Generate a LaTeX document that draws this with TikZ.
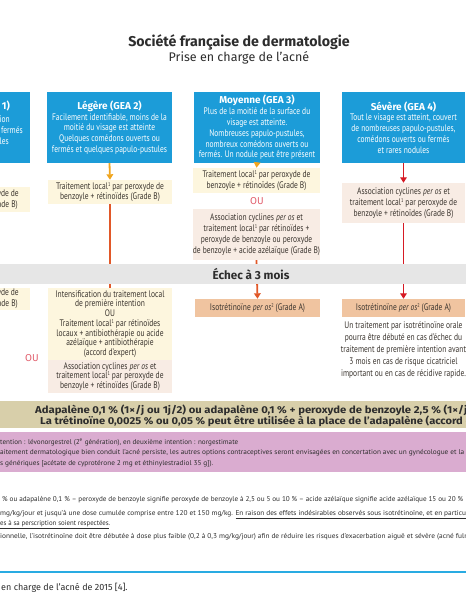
\documentclass[tikz,border=0pt]{standalone}
\usepackage{fontspec}
\usepackage{graphicx}
\setmainfont{PT Sans}
\newfontfamily\cond[FakeStretch=0.79]{PT Sans}
\newfontfamily\hd{Fira Sans}
\usetikzlibrary{arrows.meta}
\definecolor{cblue}{RGB}{28,156,216}
\definecolor{crule}{RGB}{41,171,226}
\definecolor{cyel}{RGB}{253,246,222}
\definecolor{cpink}{RGB}{248,236,228}
\definecolor{corange}{RGB}{240,196,160}
\definecolor{cgray}{RGB}{230,230,230}
\definecolor{ctan}{RGB}{216,207,170}
\definecolor{cviol}{RGB}{218,172,208}
\definecolor{ctext}{RGB}{58,52,46}
\definecolor{ctitle}{RGB}{45,45,45}
\definecolor{cou}{RGB}{226,96,110}
\definecolor{ayel}{RGB}{240,165,30}
\definecolor{aorg}{RGB}{225,88,40}
\definecolor{ared}{RGB}{214,26,36}
\newcommand\fitto[2]{\resizebox{#1}{\height}{#2}}
\newcommand\supr[1]{\raisebox{3pt}{\fontsize{5.5}{6}\selectfont #1}}
\tikzset{
  box/.style={inner sep=0pt, align=center, font=\cond\fontsize{9.5}{10.8}\selectfont, text=ctext},
  bluebox/.style={box, fill=cblue, text=white},
  ybox/.style={box, fill=cyel},
  pbox/.style={box, fill=cpink},
  obox/.style={box, fill=corange},
  frag/.style={inner sep=0pt, font=\cond\fontsize{9.5}{10.8}\selectfont, text=ctext},
  foot/.style={inner sep=0pt, anchor=west, font=\cond\fontsize{7}{8}\selectfont, text=ctitle},
  arr/.style={line width=1.8pt, -{Triangle[width=6.5pt,length=5.5pt]}},
  ln/.style={line width=1.8pt},
}
\newcommand\ttl[1]{{\hd\bfseries\fontsize{10}{10.8}\selectfont #1}}
\begin{document}
\begin{tikzpicture}[x=1pt,y=-1pt]
\useasboundingbox (0,0) rectangle (466,600);
\clip (0,0) rectangle (466,600);
\fill[white] (0,0) rectangle (466,600);

% titles
\node[inner sep=0pt, font=\hd\bfseries\fontsize{14.2}{16}\selectfont, text=ctitle] (t1) at (239,42) {Société française de dermatologie};
\node[inner sep=0pt, font=\hd\fontsize{12.5}{14}\selectfont, text=ctitle] (t2) at (239,57.5) {Prise en charge de l’acné};

% top row blue boxes
\node[bluebox, minimum width=40, minimum height=71] (b1) at (10,127.5) {};
\node[frag, anchor=east, text=white, font=\hd\bfseries\fontsize{10}{10.8}\selectfont] (b1a) at (10,106) {1)};
\node[frag, anchor=east, text=white] (b1b) at (10,119) {ion};
\node[frag, anchor=east, text=white] (b1c) at (23,130) {fermés};
\node[frag, anchor=east, text=white] (b1d) at (9,141) {les};

\node[bluebox, minimum width=125, minimum height=71] (b2) at (109.5,127.5)
 {\ttl{Légère (GEA 2)}\\Facilement identifiable, moins de la\\moitié du visage est atteinte\\Quelques comédons ouverts ou\\fermés et quelques papulo-pustules};
\node[bluebox, minimum width=126, minimum height=71] (b3) at (257,127.5)
 {\ttl{Moyenne (GEA 3)}\\Plus de la moitié de la surface du\\visage est atteinte.\\Nombreuses papulo-pustules,\\nombreux comédons ouverts ou\\fermés. Un nodule peut être présent};
\node[bluebox, minimum width=123, minimum height=71] (b4) at (403.5,127.5)
 {\ttl{Sévère (GEA 4)}\\Tout le visage est atteint, couvert\\de nombreuses papulo-pustules,\\comédons ouverts ou fermés\\et rares nodules};

% left cut column
\node[ybox, minimum width=40, minimum height=25] (yl1) at (10,199.5) {};
\node[frag, anchor=east] (yl1a) at (19,194) {yde de};
\node[frag, anchor=east] (yl1b) at (18,205) {ade B)};
\node[ybox, minimum width=40, minimum height=22] (yl2) at (10,299) {};
\node[frag, anchor=east] (yl2a) at (19,293) {yde de};
\node[frag, anchor=east] (yl2b) at (18,304) {ade B)};
\node[inner sep=0pt, font=\hd\fontsize{10}{12}\selectfont, text=cou] (ou1) at (32,358) {OU};

% Légère column
\node[ybox, minimum width=124, minimum height=24] (y1) at (110,192)
 {Traitement local\supr{1} par peroxyde de\\benzoyle + rétinoïdes (Grade B)};
\node[ybox, minimum width=124, minimum height=72, font=\cond\fontsize{9.5}{9.7}\selectfont] (y2) at (110,324)
 {Intensification du traitement local\\de première intention\\OU\\Traitement local\supr{1} par rétinoïdes\\locaux + antibiothérapie ou acide\\azélaïque + antibiothérapie\\(accord d’expert)};
\node[pbox, minimum width=124, minimum height=33, font=\cond\fontsize{9.5}{9.7}\selectfont] (p3) at (110,376.5)
 {Association cyclines \textit{per os} et\\traitement local\supr{1} par peroxyde de\\benzoyle + rétinoïdes (Grade B)};

% Moyenne column
\node[ybox, minimum width=127, minimum height=25] (ym1) at (256.5,180.5)
 {Traitement local\supr{1} par peroxyde de\\benzoyle + rétinoïdes (Grade B)};
\node[inner sep=0pt, font=\hd\fontsize{10}{12}\selectfont, text=cou] (ou2) at (257,201) {OU};
\node[pbox, minimum width=127, minimum height=51] (pm2) at (256.5,234.5)
 {Association cyclines \textit{per os} et\\traitement local\supr{1} par rétinoïdes +\\peroxyde de benzoyle ou peroxyde\\de benzoyle + acide azélaïque (Grade B)};
\node[obox, minimum width=125, minimum height=18] (om) at (257.5,308)
 {Isotrétinoïne \textit{per os}\supr{2} (Grade A)};

% Sévère column
\node[pbox, minimum width=123, minimum height=40] (ps1) at (403.5,203)
 {Association cyclines \textit{per os} et\\traitement local\supr{1} par peroxyde de\\benzoyle + rétinoïdes (Grade B)};
\node[obox, minimum width=123, minimum height=18] (os) at (403.5,308)
 {Isotrétinoïne \textit{per os}\supr{2} (Grade A)};
\node[box, font=\cond\fontsize{9.5}{12}\selectfont] (st) at (403.5,350)
 {Un traitement par isotrétinoïne orale\\pourra être débuté en cas d’échec du\\traitement de première intention avant\\3 mois en cas de risque cicatriciel\\important ou en cas de récidive rapide.};

% connectors (behind the band)
\draw[arr, ayel] (b2.south) -- (y1.north);
\draw[ln, aorg] (y1.south) -- (y2.north);
\draw[arr, ayel] (b3.south) -- (ym1.north);
\draw[arr, aorg] (pm2.south) -- (om.north);
\draw[arr, ared] (b4.south) -- (ps1.north);
\draw[arr, ared] (ps1.south) -- (os.north);

% Échec band
\node[inner sep=0pt, fill=cgray, minimum width=540, minimum height=19.5, font=\hd\bfseries\fontsize{11.7}{13}\selectfont, text=ctitle] (echec) at (251,273.75) {Échec à 3 mois};

% Adapalène band
\node[inner sep=0pt, fill=ctan, minimum width=470, minimum height=27, anchor=north west] (adap) at (-2,401) {};
\node[foot, font=\hd\bfseries\fontsize{10}{12}\selectfont, text=ctitle] (ad1) at (35,410.5)
 {\fitto{432pt}{Adapalène 0,1 \% (1×/j ou 1j/2) ou adapalène 0,1 \% + peroxyde de benzoyle 2,5 \% (1×/j}};
\node[foot, font=\hd\bfseries\fontsize{10}{12}\selectfont, text=ctitle] (ad2) at (40,421.5)
 {\fitto{432pt}{La trétinoïne 0,0025 \% ou 0,05 \% peut être utilisée à la place de l’adapalène (accord d}};

% violet band
\node[inner sep=0pt, fill=cviol, minimum width=470, minimum height=40, anchor=north west] (viol) at (-2,432) {};
\node[foot] (v1) at (0,442) {\fitto{238pt}{tention : lévonorgestrel (2\textsuperscript{e} génération), en deuxième intention : norgestimate}};
\node[foot] (v2) at (0,453) {\fitto{470pt}{aitement dermatologique bien conduit l’acné persiste, les autres options contraceptives seront envisagées en concertation avec un gynécologue et la p}};
\node[foot] (v3) at (0,464) {\fitto{213pt}{s génériques [acétate de cyprotérone 2 mg et éthinylestradiol 35 g]).}};

% footnotes
\node[foot] (f1) at (2,500) {\fitto{461pt}{\% ou adapalène 0,1 \% – peroxyde de benzoyle signifie peroxyde de benzoyle à 2,5 ou 5 ou 10 \% – acide azélaïque signifie acide azélaïque 15 ou 20 \%}};
\node[foot] (f2) at (0,515) {\fitto{470pt}{mg/kg/jour et jusqu’à une dose cumulée comprise entre 120 et 150 mg/kg. \underline{En raison des effets indésirables observés sous isotrétinoïne, et en particuli}}};
\node[foot] (f3) at (0,525) {\fitto{110pt}{\underline{es à sa perscription soient respectées}.}};
\node[foot] (f4) at (0,537) {\fitto{470pt}{ionnelle, l’isotrétinoïne doit être débutée à dose plus faible (0,2 à 0,3 mg/kg/jour) afin de réduire les risques d’exacerbation aiguë et sévère (acné fulm}};

% rule and caption
\coordinate (rl) at (-2,572);
\coordinate (rr) at (470,572);
\draw[crule, line width=2pt] (rl) -- (rr);
\node[foot, font=\hd\fontsize{9}{11}\selectfont, text=ctitle] (cap) at (1,588) {en charge de l’acné de 2015 [4].};
\end{tikzpicture}
\end{document}
